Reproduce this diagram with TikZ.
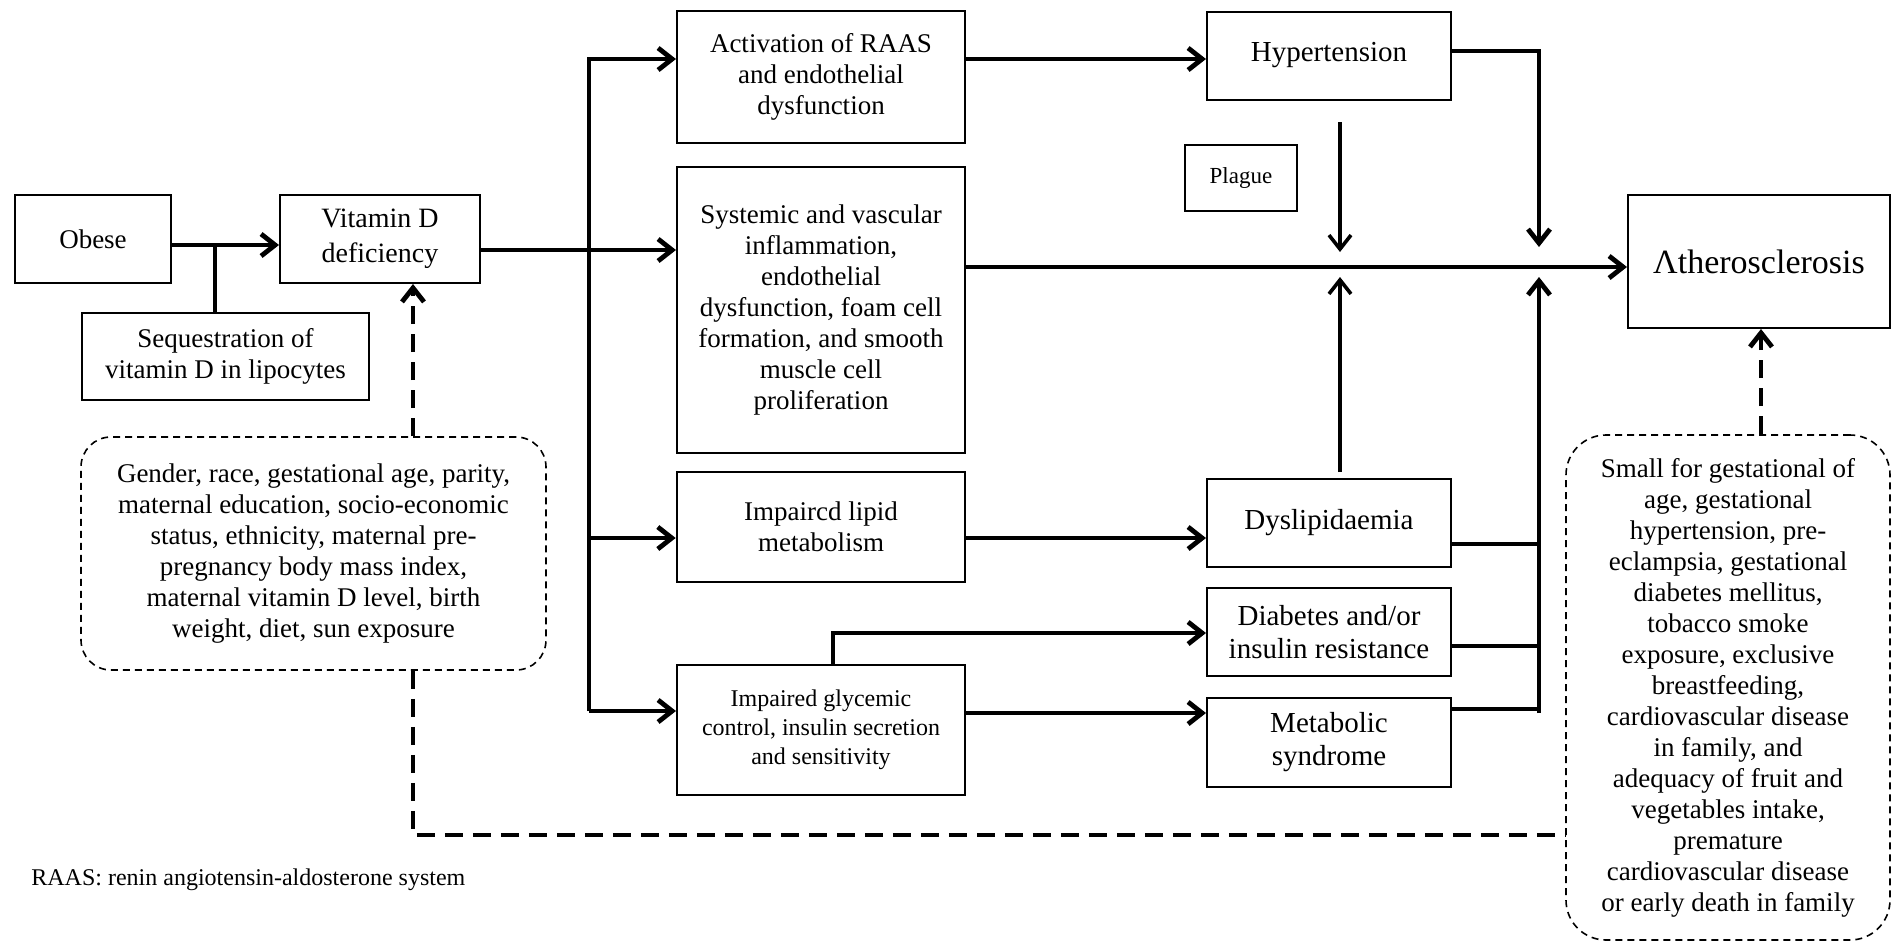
\documentclass[tikz,border=0pt]{standalone}
\usepackage{fontspec}
\setmainfont{Liberation Serif}
\usetikzlibrary{arrows.meta}
\newcommand{\boxfont}{\fontsize{13.5}{15.5}\selectfont}
\newcommand{\sidefont}{\fontsize{14.5}{16.5}\selectfont}

\begin{document}
\begin{tikzpicture}[x=.5pt,y=-.5pt,
                    box/.style={draw,line width=1pt,align=center,inner sep=0pt,font=\boxfont},
                    side/.style={box,minimum width=122pt,minimum height=44pt,font=\sidefont},
                    dbox/.style={draw,line width=.8pt,dash pattern=on 3.5pt off 2.5pt,
                                 rounded corners=#1,align=center,inner sep=0pt,font=\boxfont},
                    link/.style={line width=2.4pt},
                    arr/.style={link,-{Straight Barb[length=7pt,width=11pt]}},
                    thinarr/.style={line width=1.8pt,-{Straight Barb[length=7pt,width=11pt]}},
                    dlink/.style={line width=2.4pt,dash pattern=on 9pt off 5pt},
                    darr/.style={dlink,-{Straight Barb[length=7pt,width=11pt]}}]
 \useasboundingbox (0,0) rectangle (1892,944);
 % left part
 \node[box,minimum width=78pt,minimum height=44pt] (obese) at (93,239) {Obese};
 \node[box,minimum width=100pt,minimum height=44pt,font=\fontsize{14}{17.5}\selectfont] (vitd) at (380,239) {Vitamin D\\deficiency};
 \node[box,minimum width=143.5pt,minimum height=43.5pt] (seq) at (225.5,356.5) {Sequestration of\\vitamin D in lipocytes};
 \node[dbox=15pt,minimum width=232.5pt,minimum height=116.5pt] (gender) at (313.5,553.5)
   {Gender, race, gestational age, parity,\\maternal education, socio-economic\\status, ethnicity, maternal pre-\\pregnancy body mass index,\\maternal vitamin D level, birth\\weight, diet, sun exposure};
 % middle column
 \node[box,minimum width=144pt,minimum height=66pt] (raas) at (821,77) {Activation of RAAS\\and endothelial\\dysfunction};
 \node[box,minimum width=144pt,minimum height=143pt] (infl) at (821,310)
   {Systemic and vascular\\inflammation,\\endothelial\\dysfunction, foam cell\\formation, and smooth\\muscle cell\\proliferation};
 \node[box,minimum width=144pt,minimum height=55pt,line width=1.3pt] (lipid) at (821,527) {Impaircd lipid\\metabolism};
 \node[box,minimum width=144pt,minimum height=65pt,font=\fontsize{12}{14.5}\selectfont] (glyc) at (821,730) {Impaired glycemic\\control, insulin secretion\\and sensitivity};
 % right column
 \node[side] (hyper) at (1329,55.5) {Hypertension};
 \node[box,minimum width=56pt,minimum height=33pt,font=\fontsize{11.5}{14}\selectfont] (plague) at (1241,178) {Plague};
 \node[side] (dysl) at (1329,523) {Dyslipidaemia};
 \node[side] (diab) at (1329,632) {Diabetes and/or\\insulin resistance};
 \node[side,minimum height=44.5pt] (metab) at (1329,742.5) {Metabolic\\syndrome};
 \node[box,minimum width=131pt,minimum height=66.5pt,font=\fontsize{17}{20}\selectfont] (athero) at (1759,261.5) {Λtherosclerosis};
 \node[dbox=20pt,minimum width=162pt,minimum height=252.5pt] (risk) at (1728,687.5)
   {Small for gestational of\\age, gestational\\hypertension, pre-\\eclampsia, gestational\\diabetes mellitus,\\tobacco smoke\\exposure, exclusive\\breastfeeding,\\cardiovascular disease\\in family, and\\adequacy of fruit and\\vegetables intake,\\premature\\cardiovascular disease\\or early death in family};
 \node[anchor=west,inner sep=0pt,font=\fontsize{12}{14}\selectfont] (note) at (31,880) {RAAS: renin angiotensin-aldosterone system};
 % junction points
 \coordinate (fork) at (589,711);
 \coordinate (hdrop) at (1340,122);
 \coordinate (hjoin) at (1340,252);
 \coordinate (ldrop) at (1340,472);
 \coordinate (ljoin) at (1340,277);
 \coordinate (rjoin) at (1539,247);
 \coordinate (sink) at (1539,713);
 \coordinate (sjoin) at (1539,277);
 % solid links
 \draw[arr] (obese.east |- 0,245) -- (vitd.west |- 0,245);
 \draw[link] (seq.north -| 215,0) -- (215,245);
 \draw[arr] (vitd.east |- 0,250) -- (infl.west |- 0,250);
 \draw[arr] (fork) |- (raas.west |- 0,59);
 \draw[arr] (fork) -- (glyc.west |- 0,711);
 \draw[arr] (fork |- 0,538) -- (lipid.west |- 0,538);
 \draw[arr] (raas.east |- 0,59) -- (hyper.west |- 0,59);
 \draw[arr] (lipid.east |- 0,538) -- (dysl.west |- 0,538);
 \draw[arr] (glyc.north -| 833,0) |- (diab.west |- 0,633);
 \draw[arr] (glyc.east |- 0,713) -- (metab.west |- 0,713);
 \draw[arr] (infl.east |- 0,267) -- (athero.west |- 0,267);
 \draw[thinarr] (hdrop) -- (hjoin);
 \draw[thinarr] (ldrop) -- (ljoin);
 \draw[arr] (hyper.east |- 0,51) -| (rjoin);
 \draw[arr] (sink) -- (sjoin);
 \draw[link] (dysl.east |- 0,544) -- (sink |- 0,544);
 \draw[link] (diab.east |- 0,646) -- (sink |- 0,646);
 \draw[link] (metab.east |- 0,709) -- (sink |- 0,709);
 % dashed links
 \draw[darr] (gender.north -| 413,0) -- (vitd.south -| 413,0);
 \draw[dlink] (gender.south -| 413,0) |- (risk.west |- 0,835);
 \draw[darr] (risk.north -| 1761,0) -- (athero.south -| 1761,0);
\end{tikzpicture}
\end{document}
